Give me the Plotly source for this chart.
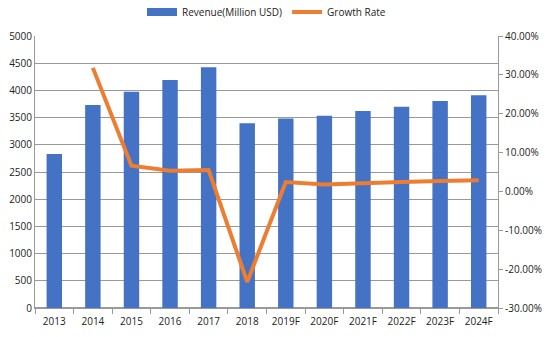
import plotly.graph_objects as go

years = ["2013", "2014", "2015", "2016", "2017", "2018", "2019F", "2020F", "2021F", "2022F", "2023F", "2024F"]
revenue = [2830, 3730, 3975, 4190, 4425, 3395, 3485, 3535, 3620, 3700, 3805, 3910]
growth = [None, 0.318, 0.066, 0.053, 0.055, -0.233, 0.024, 0.018, 0.022, 0.024, 0.027, 0.029]
rate_ticks = [-0.3, -0.2, -0.1, 0.0, 0.1, 0.2, 0.3, 0.4]
rate_labels = ["-30.00%", "-20.00%", "-10.00%", "0.00%", "10.00%", "20.00%", "30.00%", "40.00%"]

fig = go.Figure()
fig.add_trace(go.Bar(x=years, y=revenue, name="Revenue(Million USD)", showlegend=False,
                     marker=dict(color="#4472C4", line=dict(width=0))))
fig.add_trace(go.Scatter(x=[years[0]], y=[None], name="Revenue(Million USD)", mode="lines",
                         line=dict(color="#4472C4", width=8)))
fig.add_trace(go.Scatter(x=years, y=growth, name="Growth Rate", yaxis="y2",
                         mode="lines", line=dict(color="#ED7D31", width=4)))

font = dict(family="Open Sans, Liberation Sans, sans-serif", size=10, color="#222")
fig.update_layout(
    width=547, height=337,
    margin=dict(l=35, r=49, t=36, b=29, autoexpand=False),
    paper_bgcolor="white", plot_bgcolor="white",
    font=font,
    bargap=0.6,
    showlegend=True,
    legend=dict(orientation="h", x=0.5, xanchor="center", y=1.035, yanchor="bottom",
                font=dict(size=10, color="#222"), itemwidth=30, traceorder="normal"),
    xaxis=dict(showgrid=False, showline=True, linecolor="#999", linewidth=1,
               ticks="outside", tickcolor="#999", ticklen=5, tickson="boundaries",
               tickangle=0, automargin=False, ticklabelstandoff=4, tickfont=dict(size=10)),
    yaxis=dict(range=[0, 5000], dtick=500, showgrid=True, gridcolor="#999", gridwidth=1,
               showline=True, linecolor="#999", zeroline=True, zerolinecolor="#999",
               ticks="", automargin=False, tickfont=dict(size=10)),
    yaxis2=dict(range=[-0.3, 0.4], tickvals=rate_ticks, ticktext=rate_labels, overlaying="y",
                side="right", showgrid=False, showline=True, linecolor="#999",
                ticks="outside", tickcolor="#999", ticklen=4, zeroline=False,
                automargin=False, tickfont=dict(size=10)),
)
fig.write_html("out.html")
